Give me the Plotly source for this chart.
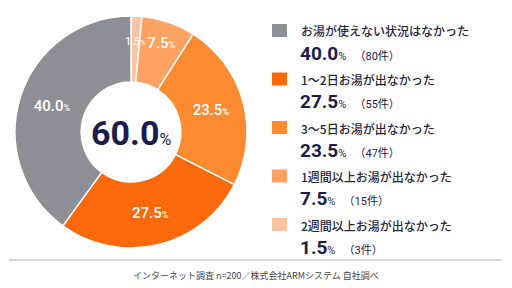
import math
import plotly.graph_objects as go

labels = ["お湯が使えない状況はなかった", "1～2日お湯が出なかった", "3～5日お湯が出なかった",
          "1週間以上お湯が出なかった", "2週間以上お湯が出なかった"]
values = [40.0, 27.5, 23.5, 7.5, 1.5]
counts = [80, 55, 47, 15, 3]
colors = ["#8e8e96", "#fa6a0c", "#fc8a30", "#fda262", "#fdc3a0"]
footer = "インターネット調査 n=200／株式会社ARMシステム 自社調べ"
center_value = sum(values[1:])

W, H = 512, 288
NAVY = "#1c1c4c"
NUMFONT = "Roboto, 'Noto Sans CJK JP', sans-serif"
JPFONT = "'Noto Sans CJK JP', sans-serif"

def px(x):
    return x / W

def py(y):
    return 1 - y / H

# pie geometry (pixels)
CX, CY, R = 131, 132, 116
HOLE = 0.43
SMALL = 3.0  # slices below this percentage get their label placed at the computed mid angle

tmpl = "%{value:.1f}<span style='font-size:9px'>%</span>"
rev_vals = values[::-1]
texttemplates = ["" if v < SMALL else tmpl for v in rev_vals]

fig = go.Figure()
# drawn clockwise from 12 o'clock in reverse order, so the first category ends up on the left
fig.add_trace(go.Pie(
    labels=labels[::-1],
    values=rev_vals,
    sort=False,
    direction="clockwise",
    rotation=0,
    hole=HOLE,
    marker=dict(colors=colors[::-1], line=dict(color="white", width=1.5)),
    texttemplate=texttemplates,
    textposition="inside",
    insidetextorientation="horizontal",
    textfont=dict(color="white", size=15, family=NUMFONT, weight=500),
    domain=dict(x=[px(CX - R), px(CX + R)], y=[py(CY + R), py(CY - R)]),
    showlegend=False,
    hoverinfo="skip",
))

annotations = [
    dict(x=px(CX), y=py(CY + 1), xref="paper", yref="paper", showarrow=False,
         text=f"<b>{center_value:.1f}</b><span style='font-size:16px'>%</span>",
         font=dict(size=34, color=NAVY, family=NUMFONT), xanchor="center", yanchor="middle"),
    dict(x=0.5, y=py(275), xref="paper", yref="paper", showarrow=False, text=footer,
         font=dict(size=9, color="#444444", family=JPFONT), xanchor="center", yanchor="middle"),
]

# labels for the tiny slices, at the slice's mid angle
total = sum(rev_vals)
cum = 0.0
for v in rev_vals:
    if v < SMALL:
        ang = (cum + v / 2) / total * 2 * math.pi
        rr = R * 0.78
        annotations.append(dict(
            x=px(CX + rr * math.sin(ang)), y=py(CY - rr * math.cos(ang)),
            xref="paper", yref="paper", showarrow=False,
            text=f"{v:.1f}<span style='font-size:7px'>%</span>",
            font=dict(size=11, color="white", family=NUMFONT), xanchor="center", yanchor="middle"))
    cum += v

shapes = [
    dict(type="line", xref="paper", yref="paper", x0=px(9), x1=px(501), y0=py(260), y1=py(260),
         line=dict(color="#aaaaaa", width=1)),
]

step = 48.5
for i, (lab, v, c, col) in enumerate(zip(labels, values, counts, colors)):
    ly = 31 + i * step
    vy = 53 + i * step
    shapes.append(dict(type="rect", xref="paper", yref="paper",
                       x0=px(272), x1=px(287), y0=py(ly - 7), y1=py(ly + 6),
                       fillcolor=col, line=dict(width=0)))
    annotations.append(dict(x=px(299), y=py(ly), xref="paper", yref="paper", showarrow=False,
                            text=lab, font=dict(size=12, color="#24243a", family=JPFONT, weight=500),
                            xanchor="left", yanchor="middle"))
    annotations.append(dict(x=px(298), y=py(vy), xref="paper", yref="paper", showarrow=False,
                            text=(f"<b>{v:.1f}</b><span style='font-size:11px'>%</span>"
                                  f"<span style='font-size:11px'>\u00a0\u00a0\u00a0（{c}件）</span>"),
                            font=dict(size=19, color=NAVY, family=NUMFONT),
                            xanchor="left", yanchor="middle"))

fig.update_layout(
    width=W, height=H,
    margin=dict(l=0, r=0, t=0, b=0),
    paper_bgcolor="white", plot_bgcolor="white",
    annotations=annotations, shapes=shapes,
)
fig.write_html("out.html")
